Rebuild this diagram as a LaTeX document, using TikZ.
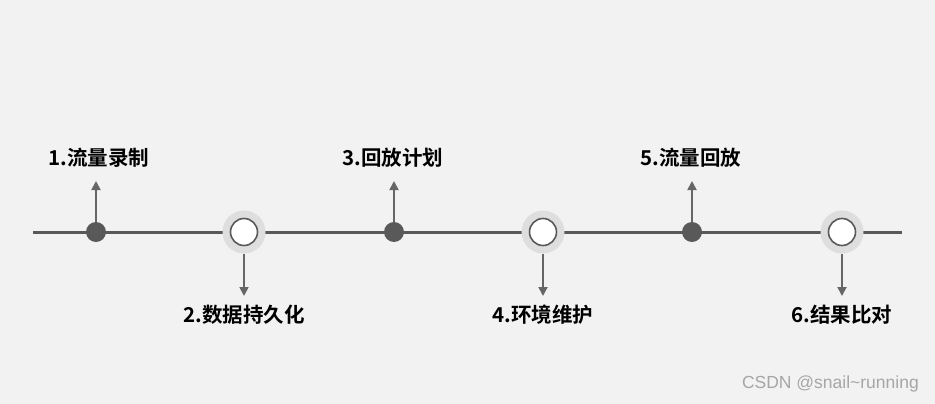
\documentclass[tikz,border=0pt]{standalone}
\usepackage{fontspec}
\newfontfamily\cjk{Noto Sans CJK SC Bold}
\setsansfont{Liberation Sans}
\usetikzlibrary{arrows.meta}
\definecolor{bg}{HTML}{F2F2F2}
\definecolor{linegray}{HTML}{595959}
\definecolor{halo}{HTML}{DEDEDE}
\definecolor{arrowgray}{HTML}{666666}
\definecolor{wm}{HTML}{A6A6A6}
\tikzset{
  filleddot/.style={circle,fill=linegray,minimum size=20pt,inner sep=0pt},
  halodot/.style={circle,fill=halo,minimum size=43pt,inner sep=0pt},
  opendot/.style={circle,fill=white,draw=linegray,line width=1.6pt,minimum size=27pt,inner sep=0pt},
  conn/.style={draw=arrowgray,line width=1.8pt,-{Triangle[length=9pt,width=9pt]}},
  lbl/.style={font=\cjk\fontsize{20.5pt}{24pt}\selectfont,text=black,inner sep=0pt},
}
\begin{document}
\begin{tikzpicture}[x=1pt,y=-1pt]
\fill[bg] (0,0) rectangle (935,404);
\useasboundingbox (0,0) rectangle (935,404);
\coordinate (L) at (33,232);
\coordinate (R) at (902,232);
\draw[linegray,line width=3pt] (L) -- (R);
% points
\node[filleddot] (p1) at (96,232) {};
\node[halodot] (h2) at (244,232) {};
\node[opendot] (p2) at (244,232) {};
\node[filleddot] (p3) at (394,232) {};
\node[halodot] (h4) at (543,232) {};
\node[opendot] (p4) at (543,232) {};
\node[filleddot] (p5) at (692,232) {};
\node[halodot] (h6) at (842,232) {};
\node[opendot] (p6) at (842,232) {};
% arrow tips
\coordinate (t1) at (96,181);
\coordinate (t3) at (394,181);
\coordinate (t5) at (692,181);
\coordinate (t2) at (244,296);
\coordinate (t4) at (543,296);
\coordinate (t6) at (842,296);
\draw[conn] (p1.north) -- (t1);
\draw[conn] (p3.north) -- (t3);
\draw[conn] (p5.north) -- (t5);
\draw[conn] (h2.south) -- (t2);
\draw[conn] (h4.south) -- (t4);
\draw[conn] (h6.south) -- (t6);
% labels
\node[lbl] (l1) at (99,158) {1.流量录制};
\node[lbl] (l2) at (244,315) {2.数据持久化};
\node[lbl] (l3) at (393,158) {3.回放计划};
\node[lbl] (l4) at (543,315) {4.环境维护};
\node[lbl] (l5) at (691,158) {5.流量回放};
\node[lbl] (l6) at (842,315) {6.结果比对};
\node[font=\sffamily\fontsize{17.5pt}{20pt}\selectfont,text=wm,inner sep=0pt,anchor=east] (w) at (919,384) {CSDN @snail\textasciitilde running};
\end{tikzpicture}
\end{document}
